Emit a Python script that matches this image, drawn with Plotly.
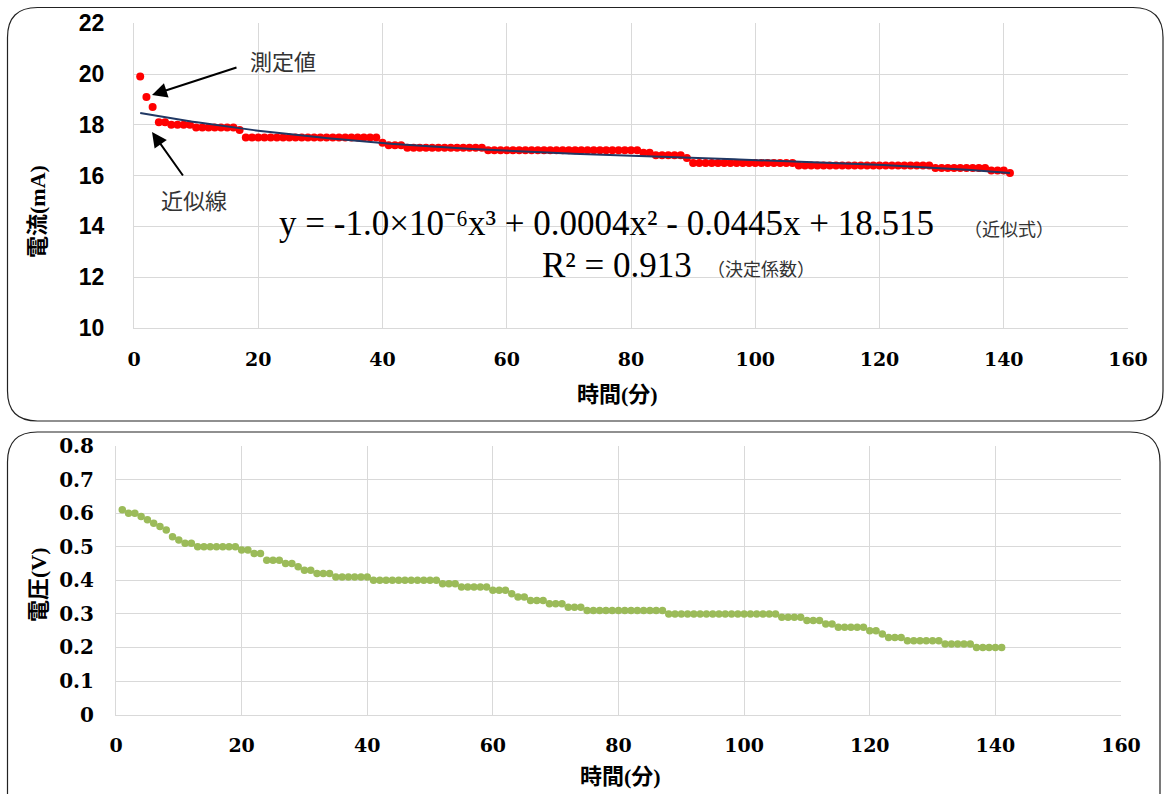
import numpy as np
import plotly.graph_objects as go

W, H = 1165, 794

# ---------------- data ----------------
minutes = list(range(1, 142))

current_mA = [
    19.9, 19.1, 18.7, 18.1, 18.1, 18.0, 18.0, 18.0, 18.0, 17.9,
    17.9, 17.9, 17.9, 17.9, 17.9, 17.9, 17.8, 17.5, 17.5, 17.5,
    17.5, 17.5, 17.5, 17.5, 17.5, 17.5, 17.5, 17.5, 17.5, 17.5,
    17.5, 17.5, 17.5, 17.5, 17.5, 17.5, 17.5, 17.5, 17.5, 17.3,
    17.2, 17.2, 17.2, 17.1, 17.1, 17.1, 17.1, 17.1, 17.1, 17.1,
    17.1, 17.1, 17.1, 17.1, 17.1, 17.1, 17.0, 17.0, 17.0, 17.0,
    17.0, 17.0, 17.0, 17.0, 17.0, 17.0, 17.0, 17.0, 17.0, 17.0,
    17.0, 17.0, 17.0, 17.0, 17.0, 17.0, 17.0, 17.0, 17.0, 17.0,
    17.0, 16.9, 16.9, 16.8, 16.8, 16.8, 16.8, 16.8, 16.7, 16.5,
    16.5, 16.5, 16.5, 16.5, 16.5, 16.5, 16.5, 16.5, 16.5, 16.5,
    16.5, 16.5, 16.5, 16.5, 16.5, 16.5, 16.4, 16.4, 16.4, 16.4,
    16.4, 16.4, 16.4, 16.4, 16.4, 16.4, 16.4, 16.4, 16.4, 16.4,
    16.4, 16.4, 16.4, 16.4, 16.4, 16.4, 16.4, 16.4, 16.3, 16.3,
    16.3, 16.3, 16.3, 16.3, 16.3, 16.3, 16.3, 16.2, 16.2, 16.2,
    16.1,
]

voltage_V = [
    0.61, 0.60, 0.60, 0.59, 0.58, 0.57, 0.56, 0.55, 0.53, 0.52,
    0.51, 0.51, 0.50, 0.50, 0.50, 0.50, 0.50, 0.50, 0.50, 0.49,
    0.49, 0.48, 0.48, 0.46, 0.46, 0.46, 0.45, 0.45, 0.44, 0.43,
    0.43, 0.42, 0.42, 0.42, 0.41, 0.41, 0.41, 0.41, 0.41, 0.41,
    0.40, 0.40, 0.40, 0.40, 0.40, 0.40, 0.40, 0.40, 0.40, 0.40,
    0.40, 0.39, 0.39, 0.39, 0.38, 0.38, 0.38, 0.38, 0.38, 0.37,
    0.37, 0.37, 0.36, 0.35, 0.35, 0.34, 0.34, 0.34, 0.33, 0.33,
    0.33, 0.32, 0.32, 0.32, 0.31, 0.31, 0.31, 0.31, 0.31, 0.31,
    0.31, 0.31, 0.31, 0.31, 0.31, 0.31, 0.31, 0.30, 0.30, 0.30,
    0.30, 0.30, 0.30, 0.30, 0.30, 0.30, 0.30, 0.30, 0.30, 0.30,
    0.30, 0.30, 0.30, 0.30, 0.30, 0.29, 0.29, 0.29, 0.29, 0.28,
    0.28, 0.28, 0.27, 0.27, 0.26, 0.26, 0.26, 0.26, 0.26, 0.25,
    0.25, 0.24, 0.23, 0.23, 0.23, 0.22, 0.22, 0.22, 0.22, 0.22,
    0.22, 0.21, 0.21, 0.21, 0.21, 0.21, 0.20, 0.20, 0.20, 0.20,
    0.20,
]

x_ticks = [0, 20, 40, 60, 80, 100, 120, 140, 160]
current_ticks = [10, 12, 14, 16, 18, 20, 22]
voltage_ticks = [0, 0.1, 0.2, 0.3, 0.4, 0.5, 0.6, 0.7, 0.8]
voltage_tick_text = ["0", "0.1", "0.2", "0.3", "0.4", "0.5", "0.6", "0.7", "0.8"]

equation_text = "y = -1.0×10⁻⁶x³ + 0.0004x² - 0.0445x + 18.515"
r2_text = "R² = 0.913"

# cubic trend line fitted to the measured current
coef = np.polyfit(minutes, current_mA, 3)
trend_x = np.linspace(1, 141, 200)
trend_y = np.polyval(coef, trend_x)

# ---------------- helpers ----------------
def PX(px):
    return px / W

def PY(py):
    return 1 - py / H

SERIF = "DejaVu Serif, Noto Sans CJK JP"
CJK_SERIF = "Liberation Serif, Noto Sans CJK JP"
SANS_B = "Liberation Sans, Arial"
GRID = "#D9D9D9"

fig = go.Figure()

fig.add_trace(go.Scatter(
    x=minutes, y=current_mA, mode="markers",
    marker=dict(color="#FF0000", size=8, line=dict(width=0)),
    xaxis="x", yaxis="y", showlegend=False,
))
fig.add_trace(go.Scatter(
    x=trend_x, y=trend_y, mode="lines",
    line=dict(color="#203864", width=2),
    xaxis="x", yaxis="y", showlegend=False,
))
fig.add_trace(go.Scatter(
    x=minutes, y=voltage_V, mode="markers",
    marker=dict(color="#9BBB59", size=7.5, line=dict(width=0)),
    xaxis="x2", yaxis="y2", showlegend=False,
))

common_x = dict(
    range=[0, 160], tickvals=x_ticks, showgrid=True, gridcolor=GRID, gridwidth=1,
    zeroline=False, showline=True, linecolor=GRID, linewidth=1, mirror=False,
    tickfont=dict(family=SERIF, size=19, color="#000000", weight="bold"),
    ticks="", ticklabelstandoff=14, automargin=False,
)

fig.update_layout(
    template="none",
    width=W, height=H, autosize=False,
    margin=dict(l=0, r=0, t=0, b=0, pad=0),
    paper_bgcolor="white", plot_bgcolor="white",
    xaxis=dict(domain=[PX(134), PX(1128)], anchor="y", **common_x),
    yaxis=dict(
        domain=[PY(328), PY(23.3)], anchor="x", range=[10, 22], tickvals=current_ticks,
        showgrid=True, gridcolor=GRID, zeroline=False, showline=True, linecolor=GRID,
        tickfont=dict(family=SANS_B, size=23, color="#000000", weight="bold"),
        ticks="", ticklabelstandoff=24, automargin=False,
    ),
    xaxis2=dict(domain=[PX(116), PX(1121)], anchor="y2", **common_x),
    yaxis2=dict(
        domain=[PY(714.6), PY(446)], anchor="x2", range=[0, 0.8], tickvals=voltage_ticks,
        ticktext=voltage_tick_text,
        showgrid=True, gridcolor=GRID, zeroline=False, showline=True, linecolor=GRID,
        tickfont=dict(family=SERIF, size=20, color="#000000", weight="bold"),
        ticks="", ticklabelstandoff=17, automargin=False,
    ),
)

# ---------------- rounded frames ----------------
def rounded(x0, y0, x1, y1, r):
    rx, ry = r / W, r / H
    a0, b0, a1, b1 = PX(x0), PY(y0), PX(x1), PY(y1)  # b0 top, b1 bottom
    return (f"M {a0+rx},{b0} L {a1-rx},{b0} Q {a1},{b0} {a1},{b0-ry} "
            f"L {a1},{b1+ry} Q {a1},{b1} {a1-rx},{b1} L {a0+rx},{b1} "
            f"Q {a0},{b1} {a0},{b1+ry} L {a0},{b0-ry} Q {a0},{b0} {a0+rx},{b0} Z")

fig.add_shape(type="path", xref="paper", yref="paper",
              path=rounded(7.5, 7.5, 1163, 421, 30),
              line=dict(color="#222222", width=1.2), layer="above")
fig.add_shape(type="path", xref="paper", yref="paper",
              path=rounded(7.5, 432, 1160, 830, 30),
              line=dict(color="#222222", width=1.2), layer="above")

# ---------------- text ----------------
def ann(text, x, y, size, family, xanchor="center", yanchor="middle", angle=0,
        color="#000000", weight="normal"):
    fig.add_annotation(text=text, x=PX(x), y=PY(y), xref="paper", yref="paper",
                       showarrow=False, xanchor=xanchor, yanchor=yanchor,
                       textangle=angle,
                       font=dict(size=size, family=family, color=color, weight=weight))

ann("電流(mA)", 38, 212, 22, CJK_SERIF, angle=-90, weight="bold")
ann("時間(分)", 617, 394, 22, CJK_SERIF, weight="bold")
ann("電圧(V)", 38, 585, 22, CJK_SERIF, angle=-90, weight="bold")
ann("時間(分)", 620, 776, 22, CJK_SERIF, weight="bold")

ann("測定値", 283, 60, 22, "Noto Sans CJK JP", color="#333333")
ann("近似線", 194, 199, 22, "Noto Sans CJK JP", color="#333333")

ann(equation_text, 277, 224, 35, "Liberation Serif", xanchor="left")
ann("（近似式）", 962, 228, 18, "Noto Sans CJK JP", xanchor="left", color="#333333")
ann(r2_text, 540, 265, 35, "Liberation Serif", xanchor="left")
ann("（決定係数）", 705, 268, 18, "Noto Sans CJK JP", xanchor="left", color="#333333")

# arrows (head at x,y; tail offset in pixels)
def arrow(hx, hy, tx, ty):
    fig.add_annotation(x=PX(hx), y=PY(hy), xref="paper", yref="paper",
                       ax=tx - hx, ay=ty - hy, axref="pixel", ayref="pixel",
                       text="", showarrow=True, arrowhead=2, arrowsize=1.5,
                       arrowwidth=2, arrowcolor="#000000")

arrow(152, 95, 238, 67)
arrow(152, 132, 184, 177)

fig.write_html(
    "out.html",
    config={"displayModeBar": False},
    post_script="document.body.style.margin='0';document.body.style.overflow='hidden';"
                "document.documentElement.style.overflow='hidden';",
)
